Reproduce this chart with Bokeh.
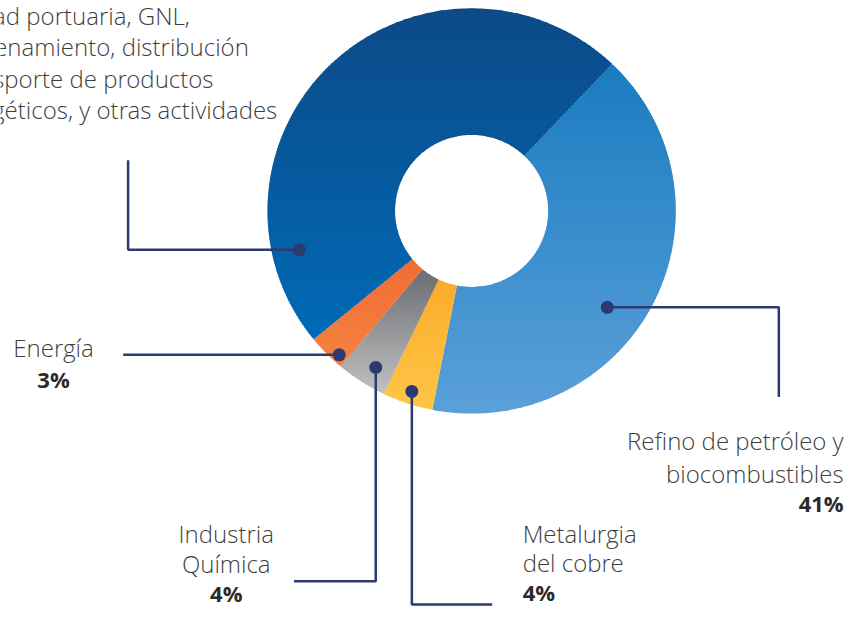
import numpy as np
from bokeh.plotting import figure
from bokeh.models import Range1d
from bokeh.core.properties import value
from bokeh.embed import file_html
from bokeh.resources import INLINE

# ---------------- data ----------------
categories = [
    "Refino de petróleo y biocombustibles",
    "Metalurgia del cobre",
    "Industria Química",
    "Energía",
    "Actividad portuaria, GNL, almacenamiento, distribución y transporte de productos energéticos, y otras actividades",
]
shares = [41, 4, 4, 3, 48]
pct_labels = ["41%", "4%", "4%", "3%", ""]

# ---------------- styles ----------------
grad_top = ["#1a7cc0", "#fbab2b", "#6b6c6f", "#f26b33", "#0c4a87"]
grad_bot = ["#5aa0d9", "#fec646", "#bfc1c3", "#f4833f", "#006ab6"]
LINE_C = "#2d3a72"
TXT_C = "#3d3d3d"
FONT = value("Open Sans Light")
FONT_B = value("Open Sans")
FS = "24px"
FS_B = "22px"
TEXT_DY = 9   # compensation for the svg text placement

W, H = 865, 622          # reference coordinate space (px, y downward)
def Y(sy):
    return H - sy

cx, cy = 480.0, Y(216)
R_OUT, R_IN = 208.0, 78.0
START_DEG = 46.5

p = figure(width=849, height=606, x_range=Range1d(0, W), y_range=Range1d(0, H),
           output_backend="svg", toolbar_location=None, min_border=0)
p.axis.visible = False
p.grid.visible = False
p.outline_line_color = None
p.background_fill_color = "white"
p.border_fill_color = "white"


def hex2rgb(h):
    h = h.lstrip("#")
    return np.array([int(h[i:i + 2], 16) for i in (0, 2, 4)], dtype=float)


def mix(c0, c1, t):
    c = hex2rgb(c0) * (1 - t) + hex2rgb(c1) * t
    return "#%02x%02x%02x" % tuple(int(round(v)) for v in c)


def clip(px, py, keep, yc):
    ox, oy = [], []
    n = len(px)
    for i in range(n):
        x0, y0 = px[i - 1], py[i - 1]
        x1, y1 = px[i], py[i]
        in0, in1 = keep(y0), keep(y1)
        if in1:
            if not in0:
                t = (yc - y0) / (y1 - y0)
                ox.append(x0 + t * (x1 - x0)); oy.append(yc)
            ox.append(x1); oy.append(y1)
        elif in0:
            t = (yc - y0) / (y1 - y0)
            ox.append(x0 + t * (x1 - x0)); oy.append(yc)
    return ox, oy


# slice angles (clockwise from start) computed from the shares
fr = np.array(shares, dtype=float) / sum(shares)
ends = START_DEG - np.cumsum(fr) * 360.0
starts = np.concatenate([[START_DEG], ends[:-1]])

all_xs, all_ys, all_c = [], [], []
for i in range(len(shares)):
    a = np.radians(np.linspace(starts[i], ends[i], 200))
    xs = list(cx + R_OUT * np.cos(a)) + list(cx + R_IN * np.cos(a[::-1]))
    ys = list(cy + R_OUT * np.sin(a)) + list(cy + R_IN * np.sin(a[::-1]))
    ylo, yhi = min(ys), max(ys)
    nb = max(2, int((yhi - ylo) / 3))
    edges = np.linspace(ylo, yhi, nb + 1)
    for b in range(nb):
        lo, hi = edges[b], edges[b + 1] + 0.9
        bx, by = clip(xs, ys, lambda y, lo=lo: y >= lo, lo)
        if len(bx) < 3:
            continue
        bx, by = clip(bx, by, lambda y, hi=hi: y <= hi, hi)
        if len(bx) < 3:
            continue
        t = 1 - ((edges[b] + edges[b + 1]) / 2 - ylo) / (yhi - ylo)
        all_xs.append(bx); all_ys.append(by); all_c.append(mix(grad_top[i], grad_bot[i], t))

p.patches(xs=all_xs, ys=all_ys, fill_color=all_c, line_color=None)

# ---------------- callouts (layout) ----------------
dot_polar = [(-35.6, 170), (-108.2, 195), (-121.3, 188), (-132.4, 200), (-167.2, 180)]
leaders = [
    ("h", 793, 407),
    ("v", 620, 501),
    ("v", 596, 299),
    ("h", 125, None),
    ("h", 130, 164),
]
dots_x, dots_y, lx, ly = [], [], [], []
for (ang, r), (d, c1, c2) in zip(dot_polar, leaders):
    x0 = cx + r * np.cos(np.radians(ang))
    y0 = cy + r * np.sin(np.radians(ang))
    dots_x.append(x0); dots_y.append(y0)
    if d == "h":
        xs = [x0, c1]; ys = [y0, y0]
        if c2 is not None:
            xs.append(c1); ys.append(Y(c2))
    else:
        xs = [x0, x0]; ys = [y0, Y(c1)]
        if c2 is not None:
            xs.append(c2); ys.append(Y(c1))
    lx.append(xs); ly.append(ys)

p.multi_line(xs=lx, ys=ly, line_color=LINE_C, line_width=2.5)
p.scatter(x=dots_x, y=dots_y, size=13, fill_color=LINE_C, line_color=None)

# ---------------- labels ----------------
def txt(x, sy, s, align, bold=False):
    p.text(x=[x], y=[Y(sy - TEXT_DY)], text=[s], text_align=align, text_baseline="alphabetic",
           text_font=FONT_B if bold else FONT, text_font_size=FS_B if bold else FS,
           text_font_style="bold" if bold else "normal",
           text_color="#2a2a2a" if bold else TXT_C)

# Refino
txt(859, 461, "Refino de petróleo y", "right")
txt(859, 494, "biocombustibles", "right")
txt(859, 525, pct_labels[0], "right", bold=True)
# Metalurgia
txt(532, 556, "Metalurgia", "left")
txt(532, 586, "del cobre", "left")
txt(532, 616, pct_labels[1], "left", bold=True)
# Industria Química
txt(230, 556, "Industria", "center")
txt(230, 587, "Química", "center")
txt(230, 617, pct_labels[2], "center", bold=True)
# Energía
txt(54, 365, "Energía", "center")
txt(54, 397, pct_labels[3], "center", bold=True)
# Actividad portuaria ... (left part cut off by the picture edge, as in the reference)
top_lines = ["Actividad portuaria, GNL,", "almacenamiento, distribución",
             "y transporte de productos", "energéticos, y otras actividades"]
top_right_ends = [193, 253, 217, 282]
for k, (s, xr) in enumerate(zip(top_lines, top_right_ends)):
    txt(xr, 24 + 32.3 * k, s, "right")

open("out.html", "w").write(file_html(p, INLINE))
